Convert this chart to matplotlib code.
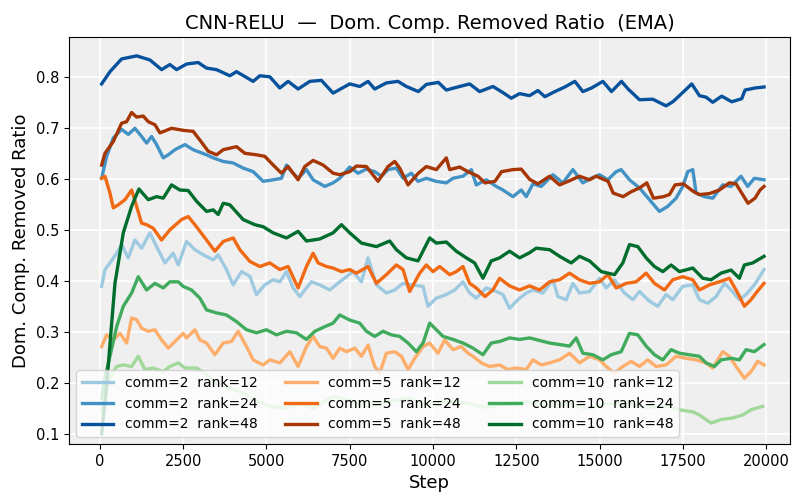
import matplotlib
matplotlib.use('Agg')
import matplotlib.pyplot as plt

# comm=2 rank=12
c2_r12_step = [50, 150, 300, 500, 650, 850, 1050, 1250, 1500, 1700, 1950, 2200, 2350, 2600, 2850, 3100, 3400, 3550, 3800,
               4000, 4250, 4500, 4700, 4950, 5200, 5400, 5600, 5800, 6000, 6200, 6350, 6600, 6900, 7200, 7400, 7600, 7850,
               8050, 8300, 8600, 8850, 9100, 9350, 9700, 9850, 10100, 10400, 10650, 10900, 11100, 11300, 11600, 11900,
               12100, 12300, 12550, 12800, 13000, 13300, 13600, 13750, 14000, 14200, 14400, 14700, 15000, 15200, 15450,
               15750, 16000, 16200, 16500, 16750, 17000, 17200, 17500, 17800, 18000, 18250, 18500, 18750, 18950, 19200,
               19400, 19650, 19940]
c2_r12_val = [.389, .422, .435, .454, .471, .445, .480, .464, .494, .467, .435, .454, .431, .477, .461, .451, .441, .451, .422,
              .392, .418, .409, .373, .392, .402, .398, .418, .386, .369, .386, .398, .392, .382, .398, .408, .418, .398,
              .445, .392, .376, .382, .395, .392, .389, .350, .366, .373, .382, .398, .376, .366, .386, .379,
              .373, .346, .363, .376, .382, .376, .402, .369, .363, .395, .376, .379, .405, .386, .402,
              .376, .363, .379, .360, .350, .373, .363, .389, .392, .363, .356, .369, .395, .382, .363,
              .373, .392, .422]

# comm=2 rank=24
c2_r24_step = [50, 200, 400, 650, 850, 1050, 1250, 1400, 1550, 1700, 1900, 2050, 2250, 2550, 2800, 3200, 3400, 3700, 4000,
               4300, 4600, 4900, 5200, 5450, 5600, 5750, 5950, 6200, 6400, 6750, 7000, 7200, 7500, 7750, 8000, 8250, 8450,
               8650, 8900, 9100, 9350, 9550, 9800, 10100, 10400, 10600, 10900, 11150, 11300, 11600, 11900, 12100, 12400,
               12650, 12800, 13000, 13250, 13450, 13600, 13900, 14200, 14500, 14750, 15000, 15250, 15500, 15650, 15900,
               16200, 16500, 16800, 17050, 17300, 17500, 17650, 17800, 17900, 18150, 18400, 18700, 18950, 19250, 19450,
               19650, 19940]
c2_r24_val = [.601, .644, .680, .697, .687, .699, .683, .670, .683, .667, .641, .647, .657, .667, .657, .647, .641, .634, .631,
              .621, .614, .595, .598, .601, .627, .614, .601, .618, .598, .585, .592, .601, .623, .611, .619, .614, .605,
              .618, .621, .601, .611, .595, .601, .595, .592, .601, .605, .618, .588, .598, .585, .578, .565,
              .578, .565, .590, .585, .598, .608, .592, .618, .592, .601, .608, .598, .614, .618, .598,
              .582, .559, .536, .546, .562, .585, .614, .618, .572, .565, .562, .588, .585, .605, .585,
              .601, .598]

# comm=2 rank=48
c2_r48_step = [50, 300, 650, 1100, 1500, 1850, 2100, 2300, 2600, 2950, 3200, 3500, 3900, 4100, 4600, 4800, 5100, 5400, 5650,
               5950, 6300, 6650, 7000, 7500, 7800, 8050, 8250, 8600, 8950, 9200, 9560, 9800, 10160, 10400, 10800, 11100,
               11400, 11800, 12100, 12350, 12600, 12900, 13150, 13360, 13660, 13960, 14260, 14500, 14760, 15100, 15360,
               15660, 15860, 16200, 16600, 17000, 17200, 17400, 17770, 18000, 18200, 18400, 18670, 18970, 19270, 19370,
               19670, 19940]
c2_r48_val = [.786, .810, .835, .841, .833, .814, .824, .814, .825, .828, .817, .814, .802, .810, .791, .802, .800, .778, .791,
              .776, .791, .793, .768, .786, .781, .791, .776, .788, .791, .781, .771, .785, .789, .774, .781, .786,
              .771, .781, .769, .758, .767, .763, .773, .761, .771, .780, .791, .771, .778, .791, .771,
              .791, .776, .755, .756, .743, .751, .763, .786, .763, .760, .750, .762, .751, .757, .774,
              .778, .780]

# comm=5 rank=12
c5_r12_step = [50, 200, 400, 600, 800, 950, 1100, 1250, 1450, 1650, 1850, 2050, 2250, 2500, 2600, 2850, 3000, 3200, 3450,
               3700, 3950, 4150, 4400, 4600, 4900, 5100, 5400, 5700, 5950, 6200, 6400, 6600, 6800, 7000, 7200, 7400, 7650,
               7850, 8050, 8250, 8400, 8600, 8850, 9050, 9250, 9450, 9700, 9900, 10150, 10350, 10600, 10850, 11050, 11200,
               11450, 11700, 12000, 12250, 12500, 12800, 13000, 13250, 13500, 13800, 14100, 14400, 14700, 15000, 15200,
               15450, 15700, 15950, 16200, 16450, 16700, 17000, 17300, 17600, 17900, 18200, 18400, 18700, 18900, 19100,
               19350, 19550, 19750, 19940]
c5_r12_val = [.271, .294, .284, .297, .278, .327, .324, .307, .301, .304, .284, .268, .281, .297, .288, .304, .284, .278, .255,
              .278, .281, .301, .271, .245, .235, .245, .239, .261, .232, .271, .291, .271, .268, .248, .268, .261, .268,
              .252, .274, .232, .219, .258, .261, .252, .226, .248, .271, .278, .258, .284, .265, .271, .258, .252,
              .239, .232, .235, .226, .229, .226, .245, .235, .239, .245, .258, .239, .252, .245, .232,
              .219, .232, .242, .232, .245, .232, .235, .252, .248, .245, .239, .229, .261, .252, .232,
              .209, .222, .242, .235]

# comm=5 rank=24
c5_r24_step = [50, 150, 300, 400, 550, 750, 950, 1100, 1250, 1400, 1600, 1850, 2100, 2450, 2650, 2850, 3200, 3450, 3700,
               4000, 4200, 4500, 4800, 5100, 5400, 5650, 5950, 6200, 6400, 6550, 6800, 7000, 7250, 7500, 7700, 8050, 8300,
               8600, 8900, 9100, 9300, 9600, 9800, 10000, 10200, 10500, 10700, 10900, 11100, 11300, 11560, 11800, 12000,
               12300, 12600, 12900, 13200, 13500, 13800, 14100, 14400, 14700, 15000, 15250, 15500, 15800, 16100, 16400,
               16650, 16950, 17200, 17500, 17800, 18000, 18300, 18600, 18900, 19150, 19350, 19550, 19700, 19940]
c5_r24_val = [.601, .605, .572, .543, .549, .559, .578, .546, .513, .510, .503, .480, .500, .520, .526, .510, .480, .458, .477,
              .484, .461, .438, .428, .435, .422, .428, .386, .428, .454, .435, .428, .425, .418, .422, .415, .428, .395,
              .412, .431, .422, .379, .415, .431, .418, .428, .412, .418, .428, .395, .386, .369, .382, .405,
              .390, .382, .390, .382, .398, .402, .415, .402, .395, .398, .412, .386, .395, .398, .415,
              .395, .382, .402, .408, .402, .382, .392, .398, .405, .376, .350, .363, .376, .395]

# comm=5 rank=48
c5_r48_step = [50, 150, 400, 650, 800, 950, 1100, 1300, 1450, 1650, 1800, 2150, 2500, 2800, 3000, 3250, 3500, 3700, 4100,
               4350, 4700, 4950, 5200, 5450, 5650, 5950, 6150, 6400, 6700, 7000, 7200, 7500, 7700, 8000, 8350, 8650, 8850,
               9000, 9250, 9560, 9800, 10100, 10400, 10500, 10800, 11050, 11350, 11560, 11860, 12060, 12400, 12650, 12900,
               13150, 13500, 13800, 14060, 14400, 14700, 14900, 15260, 15410, 15710, 15960, 16200, 16420, 16620, 16920,
               17100, 17270, 17520, 17820, 18000, 18300, 18600, 18900, 19100, 19460, 19670, 19820, 19940]
c5_r48_val = [.627, .650, .673, .709, .712, .730, .721, .723, .712, .706, .690, .699, .695, .693, .676, .654, .647, .657, .663,
              .650, .647, .644, .627, .611, .624, .598, .624, .636, .627, .611, .608, .614, .625, .624, .595, .624, .634,
              .621, .588, .611, .624, .618, .641, .618, .623, .614, .605, .592, .595, .614, .618, .619, .599,
              .590, .605, .588, .595, .605, .598, .605, .595, .572, .565, .575, .582, .592, .562, .565,
              .569, .588, .590, .575, .569, .571, .578, .592, .590, .552, .562, .578, .585]

# comm=10 rank=12
c10_r12_step = [50, 200, 500, 700, 950, 1150, 1350, 1600, 1900, 2100, 2350, 2550, 2900, 3200, 3500, 3900, 4300, 4700, 5100,
                5600, 6000, 6400, 7000, 7500, 8000, 8600, 9200, 9800, 10400, 11000, 11600, 12200, 12800, 13400, 14000,
                14600, 15200, 15800, 16400, 17000, 17400, 17800, 18000, 18350, 18650, 19000, 19300, 19550, 19900]
c10_r12_val = [.144, .199, .232, .235, .232, .252, .226, .229, .222, .232, .239, .229, .229, .216, .199, .190, .180, .165, .154,
               .150, .160, .150, .173, .166, .154, .162, .170, .158, .165, .160, .152, .158, .163, .155, .160,
               .150, .158, .162, .150, .155, .147, .143, .137, .121, .128, .131, .137, .147, .154]

# comm=10 rank=24
c10_r24_step = [50, 150, 300, 500, 700, 950, 1150, 1400, 1650, 1900, 2100, 2350, 2500, 2750, 3000, 3200, 3500, 3800, 4100,
                4400, 4700, 5000, 5300, 5600, 5900, 6200, 6450, 6750, 7000, 7200, 7500, 7800, 8000, 8250, 8500, 8750, 9000,
                9250, 9500, 9700, 9900, 10100, 10300, 10600, 10900, 11200, 11500, 11750, 12000, 12300, 12600, 12900, 13200,
                13500, 13800, 14100, 14300, 14500, 14800, 15100, 15350, 15650, 15900, 16150, 16400, 16650, 16900, 17150,
                17400, 17700, 18000, 18200, 18450, 18650, 18950, 19200, 19400, 19650, 19940]
c10_r24_val = [.170, .210, .252, .310, .350, .376, .408, .382, .395, .386, .398, .398, .389, .382, .366, .343, .337, .333, .320,
               .304, .298, .304, .294, .301, .298, .285, .301, .310, .317, .333, .323, .317, .301, .291, .301, .294, .291,
               .278, .261, .278, .317, .304, .291, .285, .278, .268, .255, .278, .281, .288, .285, .288, .283,
               .278, .275, .272, .288, .258, .255, .245, .255, .261, .297, .294, .272, .255, .245, .265,
               .258, .255, .252, .239, .232, .245, .248, .245, .265, .261, .275]

# comm=10 rank=48
c10_r48_step = [50, 200, 330, 450, 700, 950, 1170, 1450, 1700, 1900, 2150, 2400, 2650, 2900, 3200, 3400, 3550, 3700, 3900,
                4300, 4650, 4900, 5200, 5600, 5950, 6200, 6600, 7000, 7250, 7500, 7850, 8300, 8700, 8900, 9200, 9550, 9900,
                10100, 10400, 10700, 11000, 11250, 11500, 11750, 12000, 12300, 12600, 12900, 13100, 13500, 13800, 14150,
                14400, 14700, 15050, 15450, 15700, 15900, 16150, 16400, 16650, 16900, 17150, 17400, 17800, 18100, 18350,
                18650, 18950, 19200, 19350, 19600, 19940]
c10_r48_val = [.100, .193, .300, .395, .494, .546, .580, .559, .565, .562, .588, .578, .577, .556, .536, .539, .530, .552, .549,
               .520, .510, .506, .494, .484, .497, .478, .482, .494, .510, .494, .474, .467, .478, .461, .445, .439, .484,
               .474, .476, .458, .445, .435, .405, .439, .445, .458, .445, .455, .464, .461, .448, .435,
               .448, .439, .418, .412, .435, .471, .467, .445, .428, .418, .431, .418, .425, .405, .402,
               .415, .421, .405, .431, .435, .448]

series = [
    ('comm=2  rank=12', c2_r12_step, c2_r12_val, '#9ecae1'),
    ('comm=2  rank=24', c2_r24_step, c2_r24_val, '#4292c6'),
    ('comm=2  rank=48', c2_r48_step, c2_r48_val, '#08519c'),
    ('comm=5  rank=12', c5_r12_step, c5_r12_val, '#fdae6b'),
    ('comm=5  rank=24', c5_r24_step, c5_r24_val, '#f16913'),
    ('comm=5  rank=48', c5_r48_step, c5_r48_val, '#a63603'),
    ('comm=10  rank=12', c10_r12_step, c10_r12_val, '#a1d99b'),
    ('comm=10  rank=24', c10_r24_step, c10_r24_val, '#41ab5d'),
    ('comm=10  rank=48', c10_r48_step, c10_r48_val, '#006d2c'),
]


def main():
    fig = plt.figure(figsize=(7.92, 4.93), dpi=100)
    ax = fig.add_axes([69 / 792, 49 / 493, 721 / 792, 407 / 493])
    ax.set_facecolor('#efefef')
    ax.grid(True, color='white', linewidth=1.2)
    ax.set_axisbelow(True)

    for label, steps, vals, color in series:
        ax.plot(steps, vals, color=color, linewidth=2.4, label=label)

    ax.set_xlim(-930, 20720)
    ax.set_ylim(0.080, 0.878)
    ax.set_xticks(range(0, 20001, 2500))
    ax.tick_params(labelsize=10.5)
    ax.set_xlabel('Step', fontsize=13)
    ax.set_ylabel('Dom. Comp. Removed Ratio', fontsize=13)
    ax.set_title('CNN-RELU  —  Dom. Comp. Removed Ratio  (EMA)', fontsize=14)
    ax.legend(loc='lower left', ncol=3, fontsize=10, handlelength=2.3)

    fig.savefig('out.png', dpi=100)


if __name__ == '__main__':
    main()
